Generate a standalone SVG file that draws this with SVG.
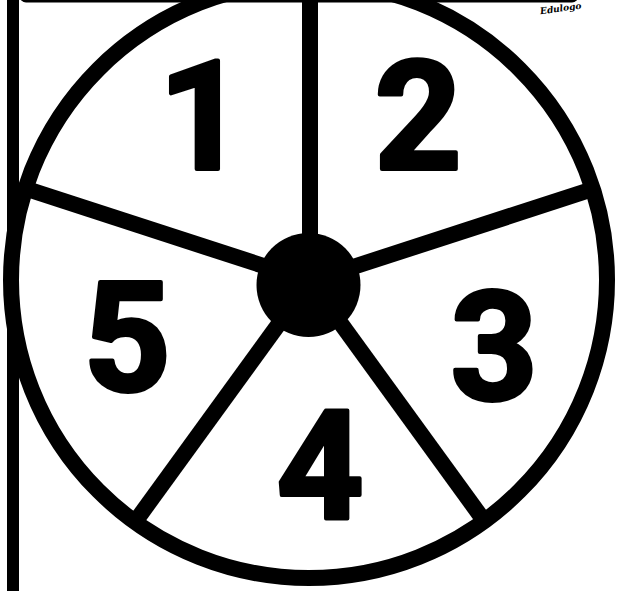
<svg xmlns="http://www.w3.org/2000/svg" width="625" height="591" viewBox="0 0 625 591">
  <style>
    .ln { stroke: #000; fill: none; stroke-width: 16; stroke-linecap: butt; }
    .num { font-family: Roboto, "Liberation Sans", Arial, sans-serif; font-weight: 700; font-size: 152px; fill: #000; stroke: #000; stroke-width: 4; stroke-linejoin: round; }
    .sig { font-family: "DejaVu Serif", serif; font-style: italic; font-weight: bold; font-size: 9px; fill: #000; }
  </style>
  <rect width="625" height="591" fill="#fff"/>
  <g id="frame">
    <line x1="13" y1="0" x2="13" y2="591" stroke="#000" stroke-width="12"/>
    <line x1="26" y1="-4" x2="572" y2="-4" stroke="#000" stroke-width="13" stroke-linecap="round"/>
    <text class="sig" x="540" y="12" transform="rotate(-8 557 9)">Edulogo</text>
  </g>
  <g id="connectors">
    <line class="ln" x1="310" y1="281" x2="310" y2="-20"/>
    <line class="ln" x1="310" y1="281" x2="593" y2="189"/>
    <line class="ln" x1="310" y1="281" x2="485" y2="522"/>
    <line class="ln" x1="310" y1="281" x2="135" y2="522"/>
    <line class="ln" x1="310" y1="281" x2="27" y2="189"/>
  </g>
  <g id="wheel">
    <circle cx="309" cy="280" r="298" class="ln"/>
  </g>
  <g id="hub">
    <circle cx="308.5" cy="285" r="52" fill="#000"/>
  </g>
  <g id="sector1"><text class="num" x="202" y="169" text-anchor="middle">1</text></g>
  <g id="sector2"><text class="num" x="418" y="169" text-anchor="middle">2</text></g>
  <g id="sector3"><text class="num" x="494" y="400" text-anchor="middle">3</text></g>
  <g id="sector4"><text class="num" x="320" y="519" text-anchor="middle">4</text></g>
  <g id="sector5"><text class="num" x="127" y="391" text-anchor="middle">5</text></g>
</svg>
